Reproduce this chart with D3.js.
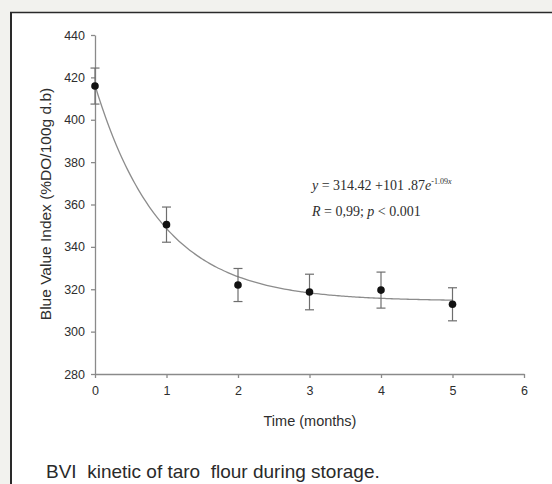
<!DOCTYPE html>
<html>
<head>
<meta charset="utf-8">
<script src="https://cdn.jsdelivr.net/npm/d3@7"></script>
<style>
  html, body { margin: 0; padding: 0; background: #f2f2ee; }
  svg { display: block; }
</style>
</head>
<body>
<svg id="chart" width="552" height="484"></svg>
<script>
// ---- data ----
const months = [0, 1, 2, 3, 4, 5];
const bviMeans = [415.9, 350.5, 322.0, 318.7, 319.6, 312.9];
const bviErrors = [8.5, 8.3, 7.8, 8.4, 8.5, 7.8];
const xTicks = [0, 1, 2, 3, 4, 5, 6];
const yTicks = [280, 300, 320, 340, 360, 380, 400, 420, 440];
const fitA = 314.42, fitB = 101.87, fitK = 1.09;
const xTitle = "Time (months)";
const yTitle = "Blue Value Index (%DO/100g d.b)";
const caption = "BVI  kinetic of taro  flour during storage.";

// ---- drawing ----
const svg = d3.select("#chart");

// white framed panel
svg.append("rect").attr("x", 0).attr("y", 0).attr("width", 552).attr("height", 484).attr("fill", "#f2f2ee");
svg.append("rect").attr("x", 11).attr("y", 12.5).attr("width", 560).attr("height", 500).attr("fill", "#ffffff");
svg.append("line").attr("x1", 11).attr("x2", 11).attr("y1", 12).attr("y2", 484)
  .attr("stroke", "#2a2a2a").attr("stroke-width", 2);
svg.append("line").attr("x1", 10).attr("x2", 552).attr("y1", 12.5).attr("y2", 12.5)
  .attr("stroke", "#2a2a2a").attr("stroke-width", 1.6);

const x = d3.scaleLinear().domain([0, 6]).range([95, 524]);
const y = d3.scaleLinear().domain([280, 440]).range([374, 35]);

const axisColor = "#8a8a8a";
const labelColor = "#2e2e2e";

const gx = svg.append("g").attr("transform", `translate(0,${y(280)})`)
  .call(d3.axisBottom(x).tickValues(xTicks).tickFormat(d3.format("d")).tickSize(4).tickPadding(8).tickSizeOuter(0));
const gy = svg.append("g").attr("transform", `translate(${x(0)},0)`)
  .call(d3.axisLeft(y).tickValues(yTicks).tickFormat(d3.format("d")).tickSize(4).tickPadding(6).tickSizeOuter(0));

[gx, gy].forEach(g => {
  g.select(".domain").attr("stroke", axisColor).attr("stroke-width", 1.3);
  g.selectAll(".tick line").attr("stroke", axisColor).attr("stroke-width", 1.3);
  g.selectAll(".tick text").attr("fill", labelColor)
    .style("font-family", "Arial, 'Liberation Sans', sans-serif").style("font-size", "12.5px");
});

// fitted curve
const fitX = d3.range(0, 5.0001, 0.05);
const line = d3.line().x(d => x(d)).y(d => y(fitA + fitB * Math.exp(-fitK * d))).curve(d3.curveMonotoneX);
svg.append("path").datum(fitX).attr("d", line).attr("fill", "none")
  .attr("stroke", "#8c8c8c").attr("stroke-width", 1.3);

// error bars
const eb = svg.append("g").attr("stroke", "#6e6e6e").attr("stroke-width", 1.2);
months.forEach((m, i) => {
  const cx = x(m), top = y(bviMeans[i] + bviErrors[i]), bot = y(bviMeans[i] - bviErrors[i]);
  eb.append("line").attr("x1", cx).attr("x2", cx).attr("y1", top).attr("y2", bot);
  eb.append("line").attr("x1", cx - 4.5).attr("x2", cx + 4.5).attr("y1", top).attr("y2", top);
  eb.append("line").attr("x1", cx - 4.5).attr("x2", cx + 4.5).attr("y1", bot).attr("y2", bot);
});

// points
svg.append("g").selectAll("circle").data(months).join("circle")
  .attr("cx", d => x(d)).attr("cy", (d, i) => y(bviMeans[i])).attr("r", 3.8).attr("fill", "#111");

// equation
const eq = svg.append("g").style("font-family", "'Liberation Serif', 'Times New Roman', serif")
  .style("font-size", "14px").attr("fill", "#2e2e2e");
const t1 = eq.append("text").attr("x", 312).attr("y", 190);
t1.append("tspan").style("font-style", "italic").text("y");
t1.append("tspan").text(" = 314.42 +101 .87");
t1.append("tspan").style("font-style", "italic").text("e");
t1.append("tspan").attr("dy", -6).style("font-size", "8px").text("-1.09");
t1.append("tspan").style("font-size", "8px").style("font-style", "italic").text("x");
const t2 = eq.append("text").attr("x", 312).attr("y", 216);
t2.append("tspan").style("font-style", "italic").text("R");
t2.append("tspan").text(" = 0,99; ");
t2.append("tspan").style("font-style", "italic").text("p");
t2.append("tspan").text(" < 0.001");

// axis titles
svg.append("text").attr("x", 310).attr("y", 426).attr("text-anchor", "middle")
  .style("font-family", "Arial, 'Liberation Sans', sans-serif").style("font-size", "14.5px")
  .attr("fill", labelColor).text(xTitle);
svg.append("text").attr("transform", `translate(51,204) rotate(-90)`).attr("text-anchor", "middle")
  .style("font-family", "Arial, 'Liberation Sans', sans-serif").style("font-size", "15.5px")
  .attr("fill", labelColor).text(yTitle);

// caption
svg.append("text").attr("x", 46).attr("y", 478)
  .attr("xml:space", "preserve").style("white-space", "pre")
  .style("font-family", "Arial, 'Liberation Sans', sans-serif").style("font-size", "19px")
  .attr("fill", "#2a2a2a").text(caption);
</script>
</body>
</html>
